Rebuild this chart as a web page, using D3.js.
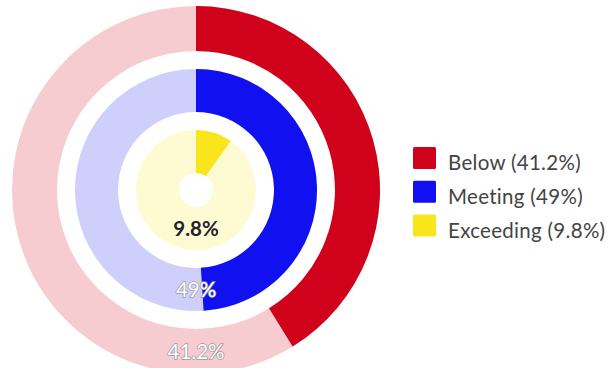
<!DOCTYPE html>
<html>
<head>
<meta charset="utf-8">
<script src="https://cdn.jsdelivr.net/npm/d3@7"></script>
<style>
  html, body { margin: 0; padding: 0; background: #fff; }
  svg { display: block; font-family: Lato, "Open Sans", sans-serif; }
</style>
</head>
<body>
<svg id="chart" width="611" height="368"></svg>
<script>
// Share of each performance band, outer ring to inner ring
const categories = ["Below", "Meeting", "Exceeding"];
const percents = [41.2, 49, 9.8];
const labels = ["41.2%", "49%", "9.8%"];
const colors = ["#d0021b", "#1010f0", "#f8e51c"];

const svg = d3.select("#chart");
const cx = 196, cy = 190;

// Ring radii (inner, outer), outer ring first
const rings = [[139, 184], [78, 121], [17, 60]];

const angle = d3.scaleLinear().domain([0, 100]).range([0, 2 * Math.PI]);

const g = svg.append("g").attr("transform", `translate(${cx},${cy})`);

categories.forEach((cat, i) => {
  const [r0, r1] = rings[i];
  const arc = d3.arc().innerRadius(r0).outerRadius(r1);
  // background track
  g.append("path")
    .attr("d", arc({ startAngle: 0, endAngle: 2 * Math.PI }))
    .attr("fill", colors[i])
    .attr("fill-opacity", 0.2);
  // value arc
  g.append("path")
    .attr("d", arc({ startAngle: 0, endAngle: angle(percents[i]) }))
    .attr("fill", colors[i]);
});

// Value labels at the bottom of each ring
categories.forEach((cat, i) => {
  const [r0, r1] = rings[i];
  const mid = (r0 + r1) / 2;
  const dark = i === 2;
  g.append("text")
    .attr("x", 0)
    .attr("y", mid + 7.5)
    .attr("text-anchor", "middle")
    .attr("font-size", 20.5)
    .attr("font-weight", dark ? 700 : 400)
    .attr("fill", dark ? "#222" : "#fff")
    .attr("stroke", dark ? "#fffbe0" : "#9a9a9a")
    .attr("stroke-width", dark ? 2 : 1.5)
    .attr("paint-order", "stroke")
    .text(labels[i]);
});

// Legend
const legend = svg.append("g").attr("transform", "translate(413,147)");
categories.forEach((cat, i) => {
  const row = legend.append("g").attr("transform", `translate(0,${i * 33.8})`);
  row.append("rect")
    .attr("width", 23).attr("height", 22)
    .attr("rx", 1.5)
    .attr("fill", colors[i]);
  row.append("text")
    .attr("x", 35).attr("y", 23)
    .attr("font-size", 20.5)
    .attr("letter-spacing", 0.3)
    .attr("fill", "#444")
    .text(`${cat} (${labels[i]})`);
});
</script>
</body>
</html>
